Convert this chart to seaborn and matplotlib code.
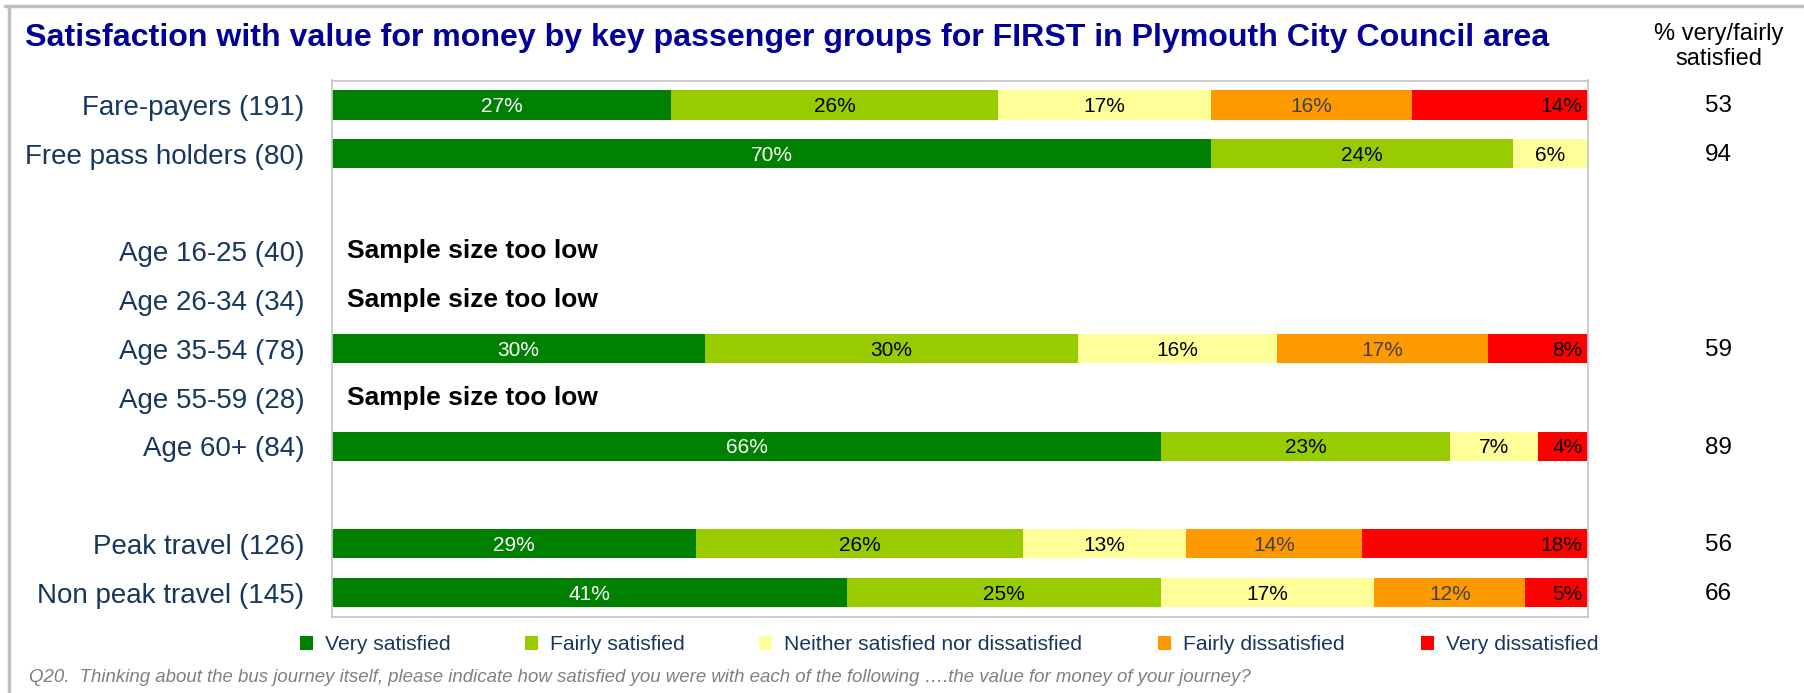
import numpy as np
import pandas as pd
import matplotlib
matplotlib.use("Agg")
import matplotlib.pyplot as plt
from matplotlib.patches import Patch
from matplotlib.lines import Line2D
import matplotlib.transforms as mtransforms
import seaborn as sns

# ---------------- data ----------------
groups = ["Fare-payers (191)", "Free pass holders (80)", "Age 16-25 (40)", "Age 26-34 (34)",
          "Age 35-54 (78)", "Age 55-59 (28)", "Age 60+ (84)", "Peak travel (126)",
          "Non peak travel (145)"]
row_order = ["Fare-payers (191)", "Free pass holders (80)", " ", "Age 16-25 (40)",
             "Age 26-34 (34)", "Age 35-54 (78)", "Age 55-59 (28)", "Age 60+ (84)", "  ",
             "Peak travel (126)", "Non peak travel (145)"]
levels = ["Very satisfied", "Fairly satisfied", "Neither satisfied nor dissatisfied",
          "Fairly dissatisfied", "Very dissatisfied"]
very_satisfied = [27, 70, np.nan, np.nan, 29.7, np.nan, 66, 29, 41]
fairly_satisfied = [26, 24, np.nan, np.nan, 29.7, np.nan, 23, 26, 25]
neither = [17, 6, np.nan, np.nan, 15.8, np.nan, 7, 13, 17]
fairly_dissatisfied = [16, 0, np.nan, np.nan, 16.8, np.nan, 0, 14, 12]
very_dissatisfied = [14, 0, np.nan, np.nan, 8.0, np.nan, 4, 18, 5]
pct_satisfied = [53, 94, np.nan, np.nan, 59, np.nan, 89, 56, 66]
sample_too_low = [False, False, True, True, False, True, False, False, False]

colors = ["#008000", "#99CC00", "#FFFF99", "#FF9900", "#FF0000"]
label_colors = ["white", "black", "black", "#404040", "black"]

title = "Satisfaction with value for money by key passenger groups for FIRST in Plymouth City Council area"
footnote = ("Q20.  Thinking about the bus journey itself, please indicate how satisfied you were "
            "with each of the following \u2026.the value for money of your journey?")

# ---------------- build table ----------------
df = pd.DataFrame({"group": groups,
                   levels[0]: very_satisfied, levels[1]: fairly_satisfied, levels[2]: neither,
                   levels[3]: fairly_dissatisfied, levels[4]: very_dissatisfied,
                   "pct": pct_satisfied, "low": sample_too_low})
data = df[~df["low"]].copy()
cum = data[levels].cumsum(axis=1)

sns.set_theme(style="white")
plt.rcParams["font.family"] = ["Liberation Sans", "DejaVu Sans"]

fig = plt.figure(figsize=(18.04, 6.93), dpi=100)
ax = fig.add_axes([332 / 1804, 1 - 617 / 693, (1588 - 332) / 1804, (617 - 80.5) / 693])

# stacked bars: draw cumulative totals from last to first
for k in range(len(levels) - 1, -1, -1):
    tmp = pd.DataFrame({"group": data["group"], "value": cum[levels[k]]})
    sns.barplot(data=tmp, x="value", y="group", order=row_order, orient="h",
                color=colors[k], saturation=1, width=0.6, errorbar=None,
                linewidth=0, ax=ax)

ax.set_xlim(0, 100)
ax.set_xticks([])
ax.set_xlabel("")
ax.set_ylabel("")
ax.tick_params(axis="y", length=0, pad=20, labelsize=20, labelcolor="#17375E")
for s in ax.spines.values():
    s.set_visible(True)
    s.set_color("#C8C8C8")
    s.set_linewidth(1.3)

# segment labels
pos = {g: i for i, g in enumerate(row_order)}
for _, row in data.iterrows():
    y = pos[row["group"]]
    start = 0.0
    for k, lev in enumerate(levels):
        v = row[lev]
        if v > 0:
            if k == len(levels) - 1:
                ax.text(start + v - 0.45, y + 0.03, f"{round(v):d}%", ha="right", va="center",
                        fontsize=15, color=label_colors[k])
            else:
                ax.text(start + v / 2, y + 0.03, f"{round(v):d}%", ha="center", va="center",
                        fontsize=15, color=label_colors[k])
        start += v

# sample size too low
for _, row in df[df["low"]].iterrows():
    ax.text(1.2, pos[row["group"]], "Sample size too low", ha="left", va="center",
            fontsize=19, fontweight="bold", color="black")

# right column
trans = mtransforms.blended_transform_factory(fig.transFigure, ax.transData)
for _, row in data.iterrows():
    ax.text(1718 / 1804, pos[row["group"]] + 0.03, f"{int(row['pct'])}", transform=trans,
            ha="center", va="center", fontsize=17.5, color="black", clip_on=False)
fig.text(1719 / 1804, 1 - 46.5 / 693, "% very/fairly\nsatisfied", ha="center", va="center",
         fontsize=17, color="black", linespacing=1.15)

# title
fig.text(25 / 1804, 1 - 38 / 693, title, ha="left", va="center", fontsize=23.1,
         fontweight="bold", color="#000099")

# legend entries
sq_x = [300, 525, 759, 1158, 1421]
for k, lev in enumerate(levels):
    fig.legend(handles=[Patch(facecolor=colors[k], edgecolor="none", label=lev)],
               loc="center left", bbox_to_anchor=(sq_x[k] / 1804, 1 - 645 / 693),
               frameon=False, fontsize=15.2, handlelength=0.62, handleheight=0.62,
               handletextpad=0.55, borderpad=0, borderaxespad=0, labelcolor="#17375E")

# footnote
fig.text(29 / 1804, 1 - 677 / 693, footnote, ha="left", va="center", fontsize=13.4,
         style="italic", color="#808080")

# outer frame (top & left)
fig.add_artist(Line2D([5 / 1804, 1], [1 - 6 / 693, 1 - 6 / 693], transform=fig.transFigure,
                      color="#BFBFBF", linewidth=2.5))
fig.add_artist(Line2D([9 / 1804, 9 / 1804], [0, 1 - 6 / 693], transform=fig.transFigure,
                      color="#BFBFBF", linewidth=2.5))

fig.savefig("out.png", dpi=100)
